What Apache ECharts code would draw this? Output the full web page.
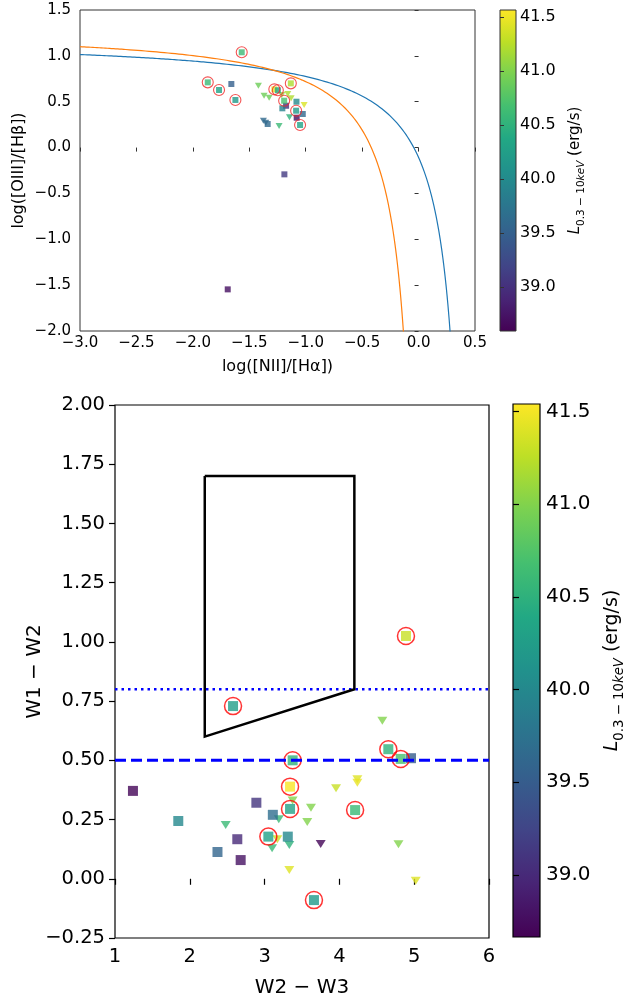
<!DOCTYPE html>
<html>
<head>
<meta charset="utf-8">
<script src="https://cdn.jsdelivr.net/npm/echarts@6/dist/echarts.min.js"></script>
<style>
html,body{margin:0;padding:0;background:#fff;}
#chart{width:627px;height:998px;}
</style>
</head>
<body>
<div id="chart"></div>
<script>
// ---------- DATA ----------
// Top panel (BPT): [log(NII/Ha), log(OIII/Hb), L_0.3-10keV]
const topPlainSquares = [
  [-1.659, 0.693, 39.5], [-1.174, 0.456, 39.0], [-1.082, 0.500, 40.0],
  [-1.207, 0.428, 39.9], [-1.026, 0.366, 39.6], [-1.080, 0.326, 38.7],
  [-1.337, 0.257, 39.6], [-1.189, -0.292, 39.1], [-1.691, -1.546, 38.7]
];
const topCircledSquares = [
  [-1.567, 1.039, 40.6], [-1.868, 0.711, 40.6], [-1.768, 0.628, 40.3],
  [-1.623, 0.519, 40.2], [-1.132, 0.700, 41.2], [-1.278, 0.635, 41.5],
  [-1.247, 0.625, 40.3], [-1.191, 0.511, 40.7], [-1.085, 0.402, 40.2],
  [-1.050, 0.246, 40.3]
];
const topTriangles = [
  [-1.419, 0.675, 40.9], [-1.369, 0.566, 40.9], [-1.324, 0.544, 40.9],
  [-1.212, 0.573, 41.1], [-1.159, 0.584, 41.2], [-1.129, 0.537, 41.2],
  [-1.014, 0.464, 41.4], [-1.144, 0.330, 40.5], [-1.236, 0.235, 40.6],
  [-1.375, 0.293, 39.6], [-1.354, 0.271, 39.6]
];
// Bottom panel (WISE): [W2-W3, W1-W2, L_0.3-10keV]
const botPlainSquares = [
  [1.24, 0.371, 38.7], [1.846, 0.244, 40.0], [2.37, 0.113, 39.6],
  [2.635, 0.167, 39.0], [2.68, 0.079, 38.8], [2.89, 0.321, 39.1],
  [3.11, 0.270, 39.7], [3.31, 0.178, 40.0], [4.957, 0.509, 39.5]
];
const botCircledSquares = [
  [2.578, 0.729, 40.25], [3.375, 0.500, 40.5], [3.34, 0.389, 41.52],
  [3.34, 0.295, 40.3], [3.05, 0.178, 40.3], [4.21, 0.290, 40.6],
  [3.66, -0.090, 40.2], [4.89, 1.025, 41.3], [4.654, 0.547, 40.5],
  [4.82, 0.506, 40.7]
];
const botTriangles = [
  [2.48, 0.227, 40.6], [3.375, 0.330, 41.0], [3.62, 0.300, 41.0],
  [3.19, 0.251, 40.6], [3.57, 0.240, 41.0], [3.955, 0.382, 41.3],
  [4.24, 0.420, 41.4], [4.24, 0.405, 41.45], [3.10, 0.129, 40.6],
  [3.17, 0.167, 41.3], [3.33, 0.143, 40.5], [3.33, 0.037, 41.4],
  [3.75, 0.147, 38.7], [4.574, 0.667, 41.0], [4.79, 0.146, 41.0],
  [5.02, -0.008, 41.4]
];
// Jarrett et al. (2011) box and reference lines
const boxPoints = [[2.2, 1.7], [4.2, 1.7], [4.2, 0.8], [2.2, 0.6], [2.2, 1.7]];
const dashedLine = [[1, 0.5], [6, 0.5]];
const dottedLine = [[1, 0.8], [6, 0.8]];
// Demarcation curves y = a/(x - b) + c
const kewley = {a: 0.61, b: 0.47, c: 1.19};
const kauffmann = {a: 0.61, b: 0.05, c: 1.30};
// Tick labels / ranges
const topCbarRange = [38.59, 41.565];
const botCbarRange = [38.665, 41.54];
const cbarTicks = [39.0, 39.5, 40.0, 40.5, 41.0, 41.5];
const viridis = ['#440154','#482475','#414487','#355f8d','#2a788e','#21918c','#22a884','#44bf70','#7ad151','#bddf26','#fde725'];

// ---------- BUILD ----------
function curve(p, x0, yMin) {
  const xEnd = p.b + p.a / (yMin - p.c);
  const pts = [];
  const n = 300;
  for (let i = 0; i <= n; i++) {
    const t = i / n;
    const x = x0 + (xEnd - x0) * (1 - Math.pow(1 - t, 2));
    pts.push([x, p.a / (x - p.b) + p.c]);
  }
  return pts;
}
const minus = s => s.replace('-', '\u2212');
const fmt = d => v => minus(v.toFixed(d));
const font = 'DejaVu Sans';
const grad = new echarts.graphic.LinearGradient(0, 0, 0, 1,
  viridis.slice().reverse().map((c, i) => ({offset: i / (viridis.length - 1), color: c})));

const chart = echarts.init(document.getElementById('chart'), null, {renderer: 'canvas'});

function cbarName(fs) {
  return {
    name: '{L|L}{s|0.3 \u2212 10}{si|keV}{n| (erg/s)}',
    nameTextStyle: {
      rich: {
        L: {fontFamily: font, fontStyle: 'italic', fontSize: fs, lineHeight: fs * 1.5, verticalAlign: 'middle'},
        s: {fontFamily: font, fontSize: fs * 0.7, lineHeight: fs * 1.5, verticalAlign: 'bottom'},
        si: {fontFamily: font, fontStyle: 'italic', fontSize: fs * 0.7, lineHeight: fs * 1.5, verticalAlign: 'bottom'},
        n: {fontFamily: font, fontSize: fs, lineHeight: fs * 1.5, verticalAlign: 'middle'}
      }
    }
  };
}

const topFs = 15, botFs = 19.5;
const gridBase = {show: true, outerBoundsMode: 'none', containLabel: false};
const option = {
  animation: false,
  backgroundColor: '#fff',
  textStyle: {fontFamily: font, color: '#000'},
  grid: [
    Object.assign({left: 80, top: 10, width: 395, height: 321, borderColor: '#333', borderWidth: 1, backgroundColor: 'transparent'}, gridBase),
    Object.assign({left: 115, top: 405, width: 374, height: 533, borderColor: '#000', borderWidth: 1.2, backgroundColor: 'transparent'}, gridBase),
    Object.assign({left: 500, top: 10, width: 16, height: 321, borderColor: '#333', borderWidth: 1, backgroundColor: grad}, gridBase),
    Object.assign({left: 513, top: 404, width: 27, height: 533, borderColor: '#000', borderWidth: 1.2, backgroundColor: grad}, gridBase)
  ],
  xAxis: [
    {gridIndex: 0, type: 'value', min: -3, max: 0.5, interval: 0.5,
     name: 'log([NII]/[H\u03b1])', nameLocation: 'middle', nameGap: 28,
     nameTextStyle: {fontSize: 16, color: '#000', fontFamily: font},
     axisLine: {show: false}, axisTick: {length: 4, lineStyle: {color: '#333'}},
     axisLabel: {formatter: fmt(1), fontSize: topFs, color: '#000', margin: 5, fontFamily: font},
     splitLine: {show: false}},
    {gridIndex: 1, type: 'value', min: 1, max: 6, interval: 1,
     name: 'W2 \u2212 W3', nameLocation: 'middle', nameGap: 40,
     nameTextStyle: {fontSize: 20, color: '#000', fontFamily: font},
     axisLine: {show: false}, axisTick: {length: 6, lineStyle: {color: '#000', width: 1.2}},
     axisLabel: {formatter: fmt(0), fontSize: botFs, color: '#000', margin: 9, fontFamily: font},
     splitLine: {show: false}},
    {gridIndex: 2, type: 'value', min: 0, max: 1, show: false},
    {gridIndex: 3, type: 'value', min: 0, max: 1, show: false}
  ],
  yAxis: [
    {gridIndex: 0, type: 'value', min: -2, max: 1.5, interval: 0.5,
     name: 'log([OIII]/[H\u03b2])', nameLocation: 'middle', nameGap: 53, nameMoveOverlap: false,
     nameTextStyle: {fontSize: 16, color: '#000', fontFamily: font},
     axisLine: {show: false}, axisTick: {length: 4, lineStyle: {color: '#333'}},
     axisLabel: {formatter: fmt(1), fontSize: topFs, color: '#000', margin: 9, fontFamily: font},
     splitLine: {show: false}},
    {gridIndex: 1, type: 'value', min: -0.25, max: 2, interval: 0.25,
     name: 'W1 \u2212 W2', nameLocation: 'middle', nameGap: 70, nameMoveOverlap: false,
     nameTextStyle: {fontSize: 20, color: '#000', fontFamily: font},
     axisLine: {show: false}, axisTick: {length: 6, lineStyle: {color: '#000', width: 1.2}},
     axisLabel: {formatter: fmt(2), fontSize: botFs, color: '#000', margin: 10, fontFamily: font},
     splitLine: {show: false}},
    Object.assign({gridIndex: 2, type: 'value', position: 'right', min: topCbarRange[0], max: topCbarRange[1],
     nameLocation: 'middle', nameGap: 48, nameRotate: 90,
     axisLine: {show: false},
     axisTick: {length: 4, lineStyle: {color: '#333'}, customValues: cbarTicks},
     axisLabel: {formatter: fmt(1), fontSize: 16, color: '#000', margin: 4, fontFamily: font, customValues: cbarTicks},
     splitLine: {show: false}}, cbarName(15)),
    Object.assign({gridIndex: 3, type: 'value', position: 'right', min: botCbarRange[0], max: botCbarRange[1],
     nameLocation: 'middle', nameGap: 58, nameRotate: 90,
     axisLine: {show: false},
     axisTick: {length: 6, lineStyle: {color: '#000', width: 1.2}, customValues: cbarTicks},
     axisLabel: {formatter: fmt(1), fontSize: 20, color: '#000', margin: 6, fontFamily: font, customValues: cbarTicks},
     splitLine: {show: false}}, cbarName(19))
  ],
  visualMap: [
    {type: 'continuous', show: false, min: topCbarRange[0], max: topCbarRange[1], dimension: 2,
     seriesIndex: [0, 1], inRange: {color: viridis}},
    {type: 'continuous', show: false, min: botCbarRange[0], max: botCbarRange[1], dimension: 2,
     seriesIndex: [5, 6], inRange: {color: viridis}}
  ],
  series: [
    {type: 'scatter', xAxisIndex: 0, yAxisIndex: 0, data: topTriangles,
     symbol: 'triangle', symbolRotate: 180, symbolSize: [7, 6], z: 3},
    {type: 'scatter', xAxisIndex: 0, yAxisIndex: 0, data: topPlainSquares.concat(topCircledSquares),
     symbol: 'rect', symbolSize: 6, z: 4},
    {type: 'scatter', xAxisIndex: 0, yAxisIndex: 0, data: topCircledSquares.map(d => [d[0], d[1]]),
     symbol: 'circle', symbolSize: 11, z: 5,
     itemStyle: {color: 'rgba(0,0,0,0)', borderColor: '#f02828', borderWidth: 1.1}},
    {type: 'line', xAxisIndex: 0, yAxisIndex: 0, data: curve(kewley, -3, -2.05), symbol: 'none',
     lineStyle: {color: '#1f77b4', width: 1.2}, z: 2, clip: true},
    {type: 'line', xAxisIndex: 0, yAxisIndex: 0, data: curve(kauffmann, -3, -2.05), symbol: 'none',
     lineStyle: {color: '#ff7f0e', width: 1.2}, z: 2, clip: true},
    {type: 'scatter', xAxisIndex: 1, yAxisIndex: 1, data: botTriangles,
     symbol: 'triangle', symbolRotate: 180, symbolSize: [10, 8], z: 3},
    {type: 'scatter', xAxisIndex: 1, yAxisIndex: 1, data: botPlainSquares.concat(botCircledSquares),
     symbol: 'rect', symbolSize: 10, z: 4},
    {type: 'scatter', xAxisIndex: 1, yAxisIndex: 1, data: botCircledSquares.map(d => [d[0], d[1]]),
     symbol: 'circle', symbolSize: 17, z: 5,
     itemStyle: {color: 'rgba(0,0,0,0)', borderColor: '#ff0000', borderWidth: 1.5}},
    {type: 'line', xAxisIndex: 1, yAxisIndex: 1, data: dashedLine, symbol: 'none', z: 6,
     lineStyle: {color: '#0000ff', width: 3, type: [11, 5]}},
    {type: 'line', xAxisIndex: 1, yAxisIndex: 1, data: dottedLine, symbol: 'none', z: 6,
     lineStyle: {color: '#0000ff', width: 2.5, type: [2.5, 4]}},
    {type: 'line', xAxisIndex: 1, yAxisIndex: 1, data: boxPoints, symbol: 'none', z: 6,
     lineStyle: {color: '#000', width: 2.5, join: 'miter'}}
  ]
};
chart.setOption(option);
</script>
</body>
</html>
